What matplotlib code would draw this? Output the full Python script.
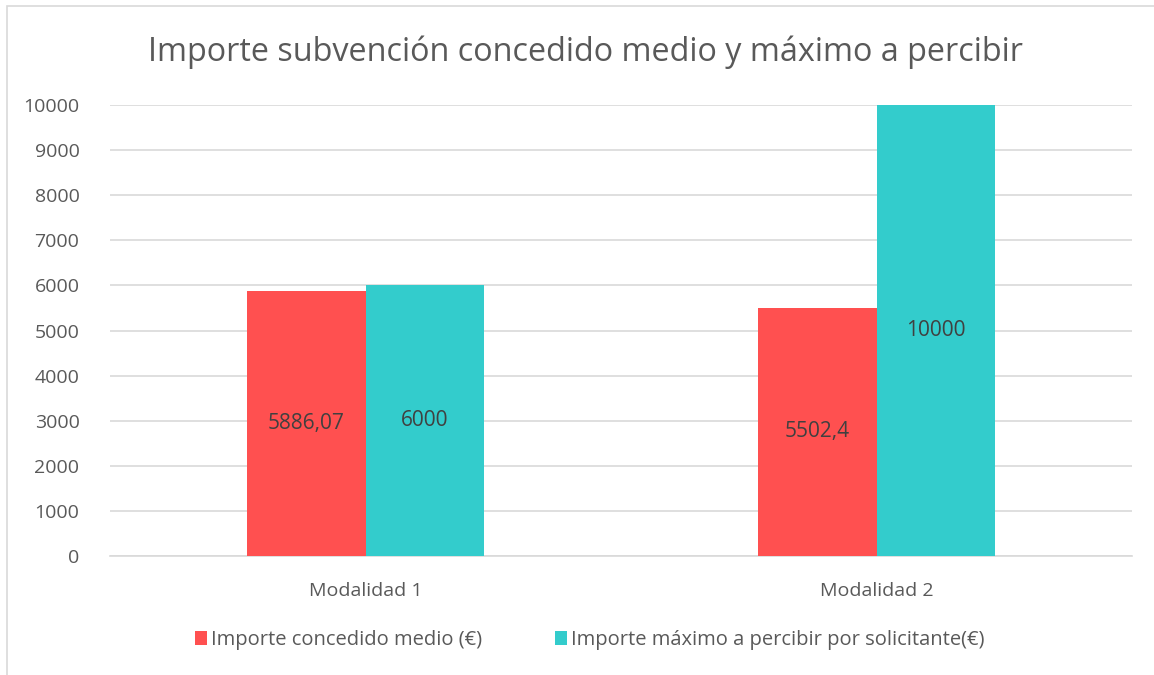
import matplotlib
matplotlib.use('Agg')
import matplotlib.pyplot as plt
import numpy as np

categorias = ['Modalidad 1', 'Modalidad 2']
concedido_medio = [5886.07, 5502.4]
maximo = [6000, 10000]
etiquetas_medio = ['5886,07', '5502,4']
etiquetas_max = ['6000', '10000']

plt.rcParams['font.family'] = ['Open Sans', 'DejaVu Sans']
gris = '#595959'

fig = plt.figure(figsize=(11.54, 6.75), dpi=100)
W, H = 1154, 675
ax = fig.add_axes([110 / W, 1 - 556 / H, (1132 - 110) / W, (556 - 105) / H])

# marco del gráfico
fig.patches.append(plt.Rectangle((7 / W, -0.1), 1.2, 1 - 6 / H + 0.1, transform=fig.transFigure,
                                 fill=False, edgecolor='#D9D9D9', linewidth=1.2))

x = np.arange(len(categorias))
width = 0.231
b1 = ax.bar(x - width / 2, concedido_medio, width, color='#FF5050', label='Importe concedido medio (€)', zorder=3)
b2 = ax.bar(x + width / 2, maximo, width, color='#33CCCC', label='Importe máximo a percibir por solicitante(€)', zorder=3)

for bars, labels in ((b1, etiquetas_medio), (b2, etiquetas_max)):
    for p, t in zip(bars, labels):
        ax.text(p.get_x() + p.get_width() / 2, p.get_height() / 2, t,
                ha='center', va='center', fontsize=15, color='#404040', zorder=4)

ax.set_xlim(-0.5, 1.5)
ax.set_ylim(0, 10000)
ax.set_yticks(np.arange(0, 10001, 1000))
ax.set_xticks(x)
ax.set_xticklabels(categorias)
ax.tick_params(length=0, labelsize=14, colors=gris)
ax.tick_params(axis='x', pad=19)
ax.tick_params(axis='y', pad=22)
for lbl in ax.get_yticklabels():
    lbl.set_horizontalalignment('right')
ax.yaxis.grid(True, color='#D9D9D9', linewidth=1.2, zorder=0)
for s in ['top', 'right', 'left']:
    ax.spines[s].set_visible(False)
ax.spines['bottom'].set_color('#D9D9D9')
ax.spines['bottom'].set_linewidth(1.2)

fig.text(585 / W, 1 - 52 / H, 'Importe subvención concedido medio y máximo a percibir',
         ha='center', va='center', fontsize=23.3, color=gris)

fig.legend(handles=[b1, b2], loc='center', bbox_to_anchor=(590 / W, 1 - 640 / H), ncol=2,
           frameon=False, fontsize=14.5, labelcolor=gris, handlelength=0.6, handleheight=0.7,
           handletextpad=0.2, columnspacing=3.6)

fig.savefig('out.png', dpi=100)
